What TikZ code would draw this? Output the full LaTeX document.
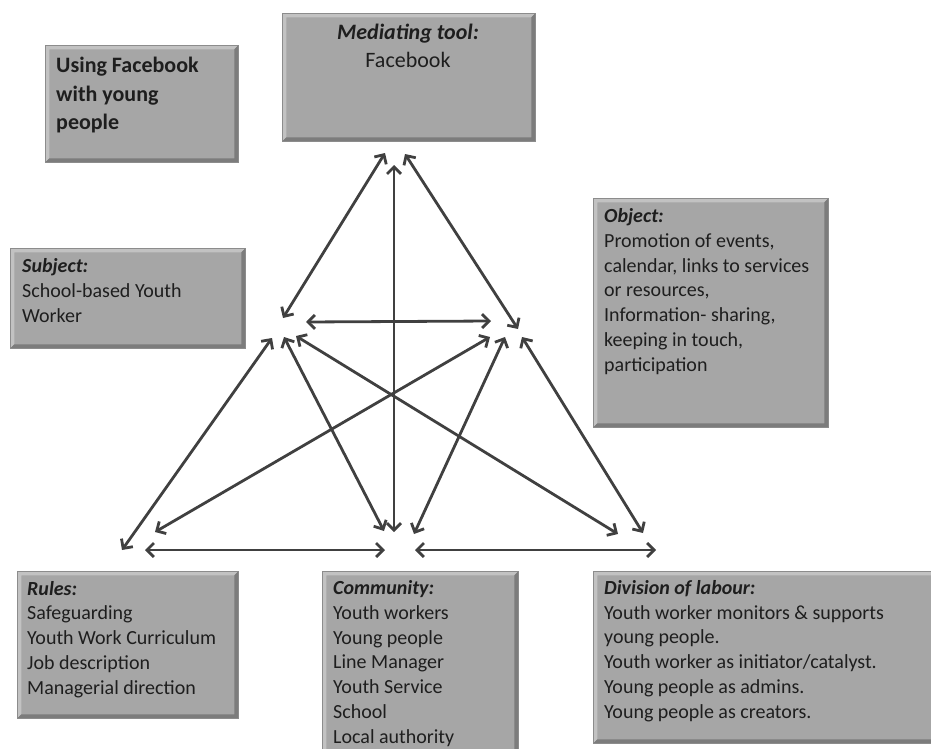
\documentclass[tikz,border=0pt]{standalone}
\usepackage{fontspec}
\setmainfont{Carlito}
\usetikzlibrary{arrows.meta,calc}
\definecolor{panelfill}{HTML}{A6A6A6}
\definecolor{panellight}{HTML}{C2C2C2}
\definecolor{paneldark}{HTML}{7C7C7C}
\definecolor{panelline}{HTML}{8C8C8C}
\definecolor{arrowcol}{HTML}{404040}
\definecolor{txtcol}{HTML}{1E1E1E}
\tikzset{
  panel/.style={rectangle, draw=panelline, line width=0.7pt, fill=panelfill, inner sep=0pt, anchor=north west,
    path picture={
      \fill[panellight] (path picture bounding box.north west) -- (path picture bounding box.north east)
        -- ([xshift=-4pt,yshift=-4pt]path picture bounding box.north east)
        -- ([xshift=4pt,yshift=-4pt]path picture bounding box.north west)
        -- ([xshift=4pt,yshift=4pt]path picture bounding box.south west)
        -- (path picture bounding box.south west) -- cycle;
      \fill[paneldark] (path picture bounding box.south east) -- (path picture bounding box.north east)
        -- ([xshift=-4pt,yshift=-4pt]path picture bounding box.north east)
        -- ([xshift=-4pt,yshift=4pt]path picture bounding box.south east)
        -- ([xshift=4pt,yshift=4pt]path picture bounding box.south west)
        -- (path picture bounding box.south west) -- cycle;
    }},
  txt/.style={text=txtcol, inner sep=0pt, align=left, anchor=base west, font=\fontsize{20}{24.7}\selectfont},
  bigtxt/.style={text=txtcol, inner sep=0pt, font=\fontsize{22}{28.5}\selectfont},
  conn/.style={draw=arrowcol, line width=2.8pt,
    {Straight Barb[length=7pt,width=14pt]}-{Straight Barb[length=7pt,width=14pt]}}
}
\begin{document}
\begin{tikzpicture}[x=1pt,y=-1pt]
\useasboundingbox (0,0) rectangle (931,749);
\clip (0,0) rectangle (931,749);
% panels
\node[panel, minimum width=193pt, minimum height=117pt] (usingfb) at (45,45) {};
\node[panel, minimum width=253pt, minimum height=128pt] (tool) at (282,13) {};
\node[panel, minimum width=235pt, minimum height=100pt] (subject) at (10,248) {};
\node[panel, minimum width=235pt, minimum height=229pt] (object) at (593,198) {};
\node[panel, minimum width=221pt, minimum height=147pt] (rules) at (17,571) {};
\node[panel, minimum width=196pt, minimum height=190pt] (community) at (322,571) {};
\node[panel, minimum width=352pt, minimum height=172pt] (division) at (593,571) {};
% texts (base anchor = baseline of the last line)
\node[bigtxt, align=left, anchor=base west] (usingfbt) at (56,130) {\textbf{Using Facebook}\\\textbf{with young}\\\textbf{people}};
\node[bigtxt, align=center, anchor=base, font=\fontsize{22}{28}\selectfont] (toolt) at (408,68) {\textbf{\textit{Mediating tool:}}\\Facebook};
\node[txt] (subjectt) at (22,322) {\textbf{\textit{Subject:}}\\School-based Youth\\Worker};
\node[txt] (objectt) at (604,371) {\textbf{\textit{Object:}}\\Promotion of events,\\calendar, links to services\\or resources,\\Information- sharing,\\keeping in touch,\\participation};
\node[txt] (rulest) at (27,694) {\textbf{\textit{Rules:}}\\Safeguarding\\Youth Work Curriculum\\Job description\\Managerial direction};
\node[txt] (communityt) at (333,743) {\textbf{\textit{Community:}}\\Youth workers\\Young people\\Line Manager\\Youth Service\\School\\Local authority};
\node[txt] (divisiont) at (604,718) {\textbf{\textit{Division of labour:}}\\Youth worker monitors \& supports\\young people.\\Youth worker as initiator/catalyst.\\Young people as admins.\\Young people as creators.};
% arrow end points
\coordinate (T1) at (385,153);
\coordinate (T2) at (394,165);
\coordinate (T3) at (405,154);
\coordinate (L0) at (283,318);
\coordinate (L1) at (306,322);
\coordinate (L2) at (272,338);
\coordinate (L3) at (284,337);
\coordinate (L4) at (296,336);
\coordinate (R0) at (518,329);
\coordinate (R1) at (491,321);
\coordinate (R2) at (490,337);
\coordinate (R3) at (505,337);
\coordinate (R4) at (522,337);
\coordinate (B1) at (122,550);
\coordinate (B2) at (155,532);
\coordinate (B3) at (145,550);
\coordinate (M1) at (384,531);
\coordinate (M2) at (394,532);
\coordinate (M3) at (414,534);
\coordinate (M4) at (385,550);
\coordinate (M5) at (415,550);
\coordinate (D1) at (618,534);
\coordinate (D2) at (643,533);
\coordinate (D3) at (656,550);
% connectors
\draw[conn] (T1) -- (L0);
\draw[conn] (T2) -- (M2);
\draw[conn] (T3) -- (R0);
\draw[conn] (L1) -- (R1);
\draw[conn] (L2) -- (B1);
\draw[conn] (L3) -- (M1);
\draw[conn] (L4) -- (D1);
\draw[conn] (R2) -- (B2);
\draw[conn] (R3) -- (M3);
\draw[conn] (R4) -- (D2);
\draw[conn] (B3) -- (M4);
\draw[conn] (M5) -- (D3);
\end{tikzpicture}
\end{document}
